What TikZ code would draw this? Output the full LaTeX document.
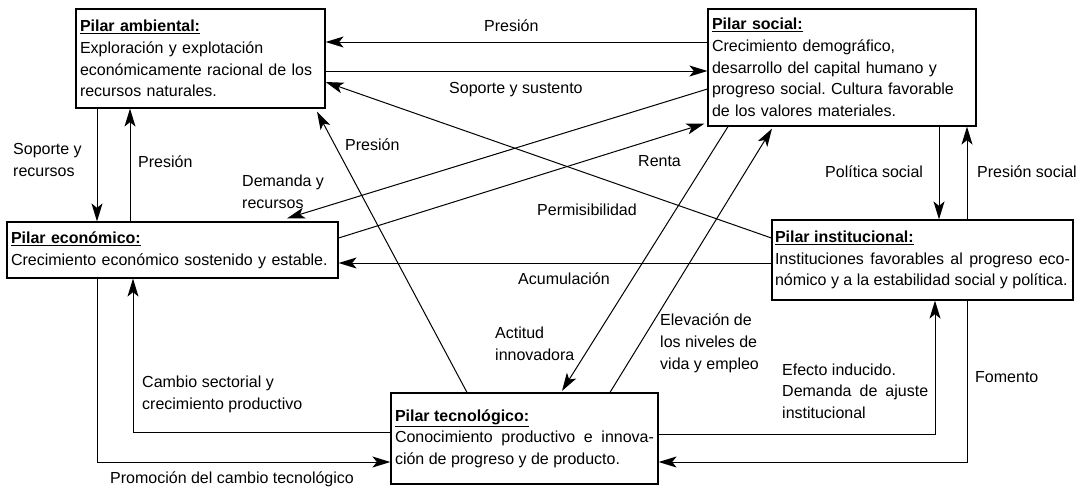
\documentclass[tikz,border=0pt]{standalone}
\usepackage{fontspec}
\setmainfont{Liberation Sans}
\usetikzlibrary{arrows.meta}
\frenchspacing
\begin{document}
\begin{tikzpicture}[x=1pt,y=-1pt,
  font=\fontsize{16}{21.7}\selectfont,
  pilar/.style={draw, line width=1.2pt, inner xsep=4pt, inner ysep=0pt},
  con/.style={line width=1pt, -{Stealth[length=18pt,width=11pt,inset=4.5pt]}},
  lab/.style={inner sep=0pt, anchor=base west, align=left},
]
\useasboundingbox (0,0) rectangle (1085,488);

\node[pilar, text width=241pt, minimum height=99pt, align=left] (amb) at (200.5,58.5)
  {\textbf{\underline{Pilar ambiental:}}\\Exploración y explotación\\económicamente racional de los\\recursos naturales.};
\node[pilar, text width=260pt, minimum height=117pt, align=left] (soc) at (842,67.5)
  {\textbf{\underline{Pilar social:}}\\Crecimiento demográfico,\\desarrollo del capital humano y\\progreso social. Cultura favorable\\de los valores materiales.};
\node[pilar, text width=323pt, minimum height=56pt, align=left] (eco) at (172.5,250)
  {\textbf{\underline{Pilar económico:}}\\Crecimiento económico sostenido y estable.};
\node[pilar, inner xsep=3pt, text width=295pt, minimum height=80pt, align=justify] (ins) at (922.5,260)
  {\textbf{\underline{Pilar institucional:}}\\Instituciones favorables al progreso eco-\linebreak nómico y a la estabilidad social y política.};
\node[pilar, text width=259pt, minimum height=91pt, align=justify] (tec) at (524.5,438.5)
  {\textbf{\underline{Pilar tecnológico:}}\\Conocimiento productivo e innova-\linebreak ción de progreso y de producto.};

\draw[con] ([yshift=25.5pt]soc.west) -- ([yshift=16.5pt]amb.east);
\draw[con] ([yshift=-12.5pt]amb.east) -- ([yshift=-3.5pt]soc.west);
\draw[con] ([xshift=-103.5pt]amb.south) -- ([xshift=-75.5pt]eco.north);
\draw[con] ([xshift=-42.5pt]eco.north) -- ([xshift=-70.5pt]amb.south);
\draw[con] ([yshift=-21.5pt]soc.west) -- ([xshift=114.5pt,yshift=3pt]eco.north);
\draw[con] ([yshift=12pt]eco.east) -- ([xshift=-3pt,yshift=3pt]soc.south west);
\draw[con] ([yshift=22pt]ins.west) -- ([yshift=-23.5pt]amb.east);
\draw[con] ([xshift=-57.5pt]tec.north) -- ([xshift=116.5pt,yshift=-3pt]amb.south);
\draw[con] ([xshift=-114pt]soc.south) -- ([xshift=37.5pt,yshift=1.5pt]tec.north);
\draw[con] ([xshift=85.5pt]tec.north) -- ([xshift=-70pt,yshift=-2pt]soc.south);
\draw[con] ([yshift=-3pt]ins.west) -- ([yshift=-13pt]eco.east);
\draw[con] ([xshift=97pt]soc.south) -- ([xshift=16.5pt]ins.north);
\draw[con] ([xshift=44.5pt]ins.north) -- ([xshift=125pt]soc.south);
\draw[con] ([yshift=6.5pt]tec.west) -| ([xshift=-39.5pt]eco.south);
\draw[con] ([xshift=-75.5pt]eco.south) |- ([yshift=-23.5pt]tec.west);
\draw[con] ([yshift=4.5pt]tec.east) -| ([xshift=12.5pt]ins.south);
\draw[con] ([xshift=44.5pt]ins.south) |- ([yshift=-23.5pt]tec.east);

\node[lab] (l1) at (484,31) {Presión};
\node[lab] (l2) at (449,93) {Soporte y sustento};
\node[lab] (l3) at (13,176) {Soporte y\\recursos};
\node[lab] (l4) at (138,167) {Presión};
\node[lab] (l5) at (242,208) {Demanda y\\recursos};
\node[lab] (l6) at (345,150) {Presión};
\node[lab] (l7) at (638,166) {Renta};
\node[lab] (l8) at (537,215) {Permisibilidad};
\node[lab] (l9) at (825,177) {Política social};
\node[lab] (l10) at (977,177) {Presión social};
\node[lab] (l11) at (518,284) {Acumulación};
\node[lab] (l12) at (495,360) {Actitud\\innovadora};
\node[lab] (l13) at (660,369) {Elevación de\\los niveles de\\vida y empleo};
\node[lab] (l14) at (142,409) {Cambio sectorial y\\crecimiento productivo};
\node[lab] (l15) at (110,483) {Promoción del cambio tecnológico};
\node[lab, text width=146pt, align=justify] (l16) at (782,375) {Efecto inducido.\\Demanda de ajuste\linebreak institucional};
\node[lab] (l17) at (975,382) {Fomento};
\end{tikzpicture}
\end{document}
